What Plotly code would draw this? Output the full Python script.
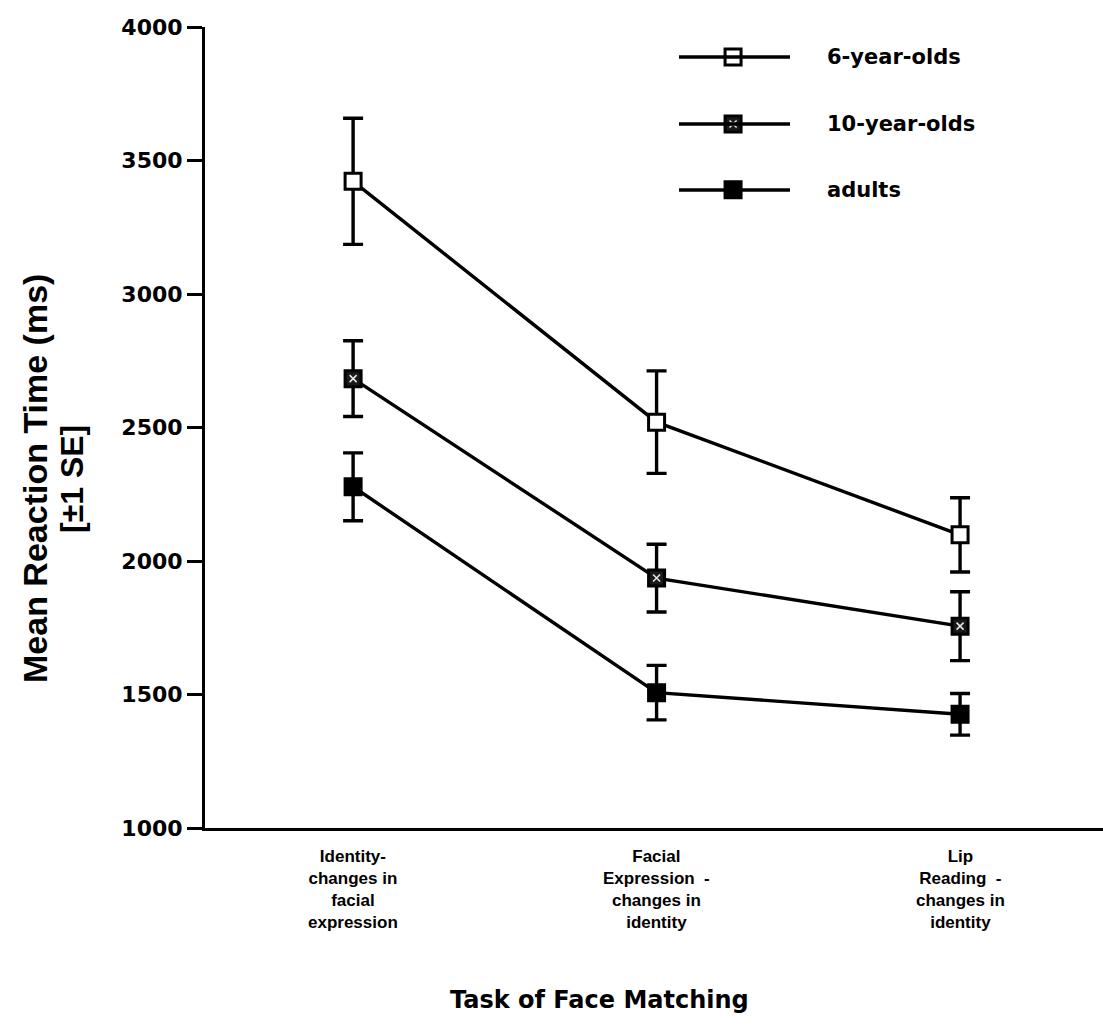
import plotly.graph_objects as go

# Mean reaction times (ms) and standard errors for each age group
tasks = [
    "Identity-<br>changes in<br>facial<br>expression",
    "Facial<br>Expression  -<br>changes in<br>identity",
    "Lip<br>Reading  -<br>changes in<br>identity",
]
groups = ["6-year-olds", "10-year-olds", "adults"]
rt_6yr = [3422, 2520, 2098]
se_6yr = [236, 192, 139]
rt_10yr = [2683, 1936, 1756]
se_10yr = [142, 127, 129]
rt_adult = [2278, 1507, 1426]
se_adult = [127, 102, 78]
y_ticks = [1000, 1500, 2000, 2500, 3000, 3500, 4000]

W, H = 1103, 1026
L, T, R, B = 205, 27, 0, 198
PW, PH = W - L - R, H - T - B


def px(x):
    return (x - L) / PW


def py(y):
    return (H - B - y) / PH


X_RANGE = [-0.488, 2.471]
xs = [0, 1, 2]

NUM_FONT = dict(family="DejaVu Sans", size=22, color="black", weight="bold")
NARROW = "Liberation Sans Narrow, Liberation Sans, Arial"

fig = go.Figure()

styles = [
    dict(fill="white", overlay=False),
    dict(fill="#1a1a1a", overlay=True),
    dict(fill="black", overlay=False),
]
series = [(rt_6yr, se_6yr), (rt_10yr, se_10yr), (rt_adult, se_adult)]
MSIZE = 16

for name, (vals, errs), st in zip(groups, series, styles):
    fig.add_trace(go.Scatter(
        x=xs, y=vals, name=name, mode="lines+markers",
        line=dict(color="black", width=3.4),
        marker=dict(symbol="square", size=MSIZE, color=st["fill"],
                    line=dict(color="black", width=3)),
        error_y=dict(type="data", array=errs, visible=True,
                     color="black", thickness=3.4, width=10),
        cliponaxis=False, showlegend=False,
    ))
    if st["overlay"]:
        fig.add_trace(go.Scatter(
            x=xs, y=vals, mode="markers", hoverinfo="skip",
            marker=dict(symbol="x-thin", size=7,
                        line=dict(color="#e8e8e8", width=1.5)),
            cliponaxis=False, showlegend=False,
        ))

# Hand-drawn key in the upper right
key_x = 1.252
key_y = [3888, 3637, 3390]
key_rows = [57, 124, 190]
for name, st, ky, row in zip(groups, styles, key_y, key_rows):
    fig.add_shape(type="line", xref="paper", yref="paper",
                  x0=px(679), x1=px(790), y0=py(row), y1=py(row),
                  line=dict(color="black", width=3.4))
    fig.add_trace(go.Scatter(
        x=[key_x], y=[ky], mode="markers", hoverinfo="skip",
        marker=dict(symbol="square", size=MSIZE, color=st["fill"],
                    line=dict(color="black", width=3)),
        cliponaxis=False, showlegend=False,
    ))
    if st["overlay"]:
        fig.add_trace(go.Scatter(
            x=[key_x], y=[ky], mode="markers", hoverinfo="skip",
            marker=dict(symbol="x-thin", size=7,
                        line=dict(color="#e8e8e8", width=1.5)),
            cliponaxis=False, showlegend=False,
        ))
    fig.add_annotation(xref="paper", yref="paper", x=px(825), y=py(row),
                       xanchor="left", yanchor="middle", showarrow=False,
                       text=name, font=dict(family="DejaVu Sans", size=21,
                                            color="black", weight="bold"))

# Category labels under the axis
for xv, label in zip(xs, tasks):
    fig.add_annotation(xref="x", yref="paper", x=xv, y=py(845),
                       xanchor="center", yanchor="top", showarrow=False,
                       text=label, align="center",
                       font=dict(family=NARROW, size=17, color="black",
                                 weight="bold"))

# Axis titles
fig.add_annotation(xref="paper", yref="paper", x=px(599), y=py(1000),
                   xanchor="center", yanchor="middle", showarrow=False,
                   text="Task of Face Matching",
                   font=dict(family="DejaVu Sans", size=24, color="black",
                             weight="bold"))
fig.add_annotation(xref="paper", yref="paper", x=px(35), y=py(479),
                   xanchor="center", yanchor="middle", showarrow=False,
                   textangle=-90, text="Mean Reaction Time (ms)",
                   font=dict(family=NARROW, size=34, color="black",
                             weight="bold"))
fig.add_annotation(xref="paper", yref="paper", x=px(72), y=py(479),
                   xanchor="center", yanchor="middle", showarrow=False,
                   textangle=-90, text="[±1 SE]",
                   font=dict(family=NARROW, size=32, color="black",
                             weight="bold"))

fig.update_xaxes(range=X_RANGE, showline=True, linecolor="black",
                 linewidth=3, showticklabels=False, ticks="",
                 showgrid=False, zeroline=False)
fig.update_yaxes(range=[1000, 4000], tickvals=y_ticks,
                 ticktext=[str(v) for v in y_ticks],
                 showline=True, linecolor="black", linewidth=3,
                 ticks="outside", ticklen=15, tickwidth=3,
                 tickcolor="black", tickfont=NUM_FONT,
                 showgrid=False, zeroline=False)

fig.update_layout(width=W, height=H,
                  margin=dict(l=L, r=R, t=T, b=B, pad=0),
                  plot_bgcolor="white", paper_bgcolor="white",
                  showlegend=False)

fig.write_html("out.html")
